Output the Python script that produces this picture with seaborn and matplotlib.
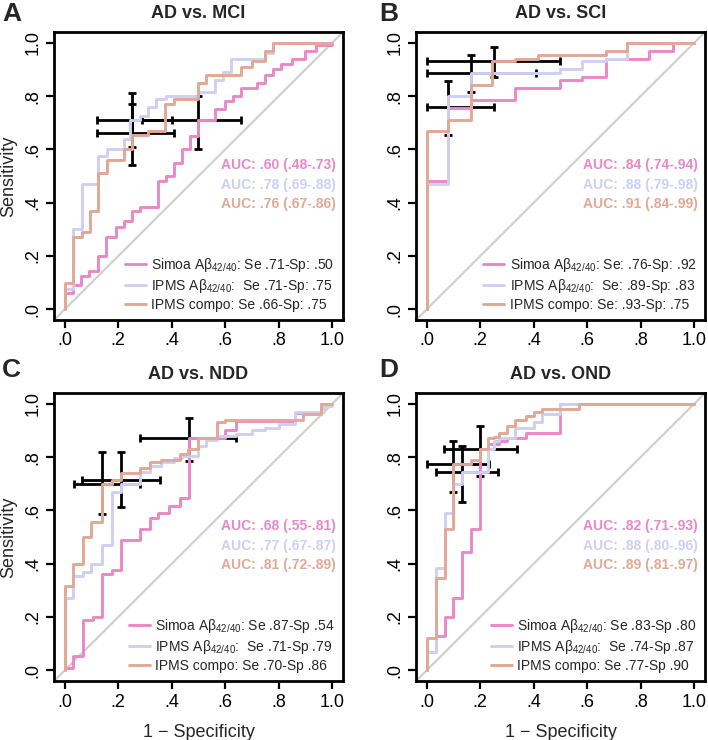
import matplotlib
matplotlib.use('Agg')
import matplotlib.pyplot as plt
from matplotlib.lines import Line2D
import seaborn as sns

# colours of the three markers
PINK = '#EA88C6'
LAV = '#CFCFF4'
SAL = '#E2A895'

TITLES = ['AD vs. MCI', 'AD vs. SCI', 'AD vs. NDD', 'AD vs. OND']
LETTERS = ['A', 'B', 'C', 'D']

# ROC step points (1 - specificity, sensitivity)
A_SIMOA_X = [0, 0, 0.03, 0.06, 0.09, 0.125, 0.155, 0.19, 0.22, 0.25, 0.28, 0.35, 0.38, 0.41, 0.44, 0.47, 0.50, 0.56, 0.60, 0.63, 0.66, 0.72, 0.75, 0.78, 0.81, 0.85, 0.90, 0.94, 1.0]
A_SIMOA_Y = [0, 0.06, 0.09, 0.125, 0.145, 0.20, 0.27, 0.31, 0.33, 0.37, 0.385, 0.48, 0.50, 0.55, 0.60, 0.65, 0.71, 0.75, 0.78, 0.80, 0.83, 0.85, 0.88, 0.90, 0.92, 0.94, 0.97, 0.99, 1.0]
A_IPMS_X = [0, 0, 0.03, 0.063, 0.125, 0.157, 0.22, 0.245, 0.28, 0.31, 0.34, 0.38, 0.50, 0.56, 0.59, 0.62, 0.75, 0.78, 1.0]
A_IPMS_Y = [0, 0.075, 0.30, 0.47, 0.575, 0.60, 0.64, 0.71, 0.725, 0.76, 0.79, 0.80, 0.815, 0.86, 0.89, 0.94, 0.96, 1.0, 1.0]
A_COMPO_X = [0, 0, 0.03, 0.063, 0.094, 0.125, 0.157, 0.22, 0.25, 0.31, 0.375, 0.41, 0.50, 0.53, 0.66, 0.70, 0.75, 0.78, 1.0]
A_COMPO_Y = [0, 0.10, 0.27, 0.29, 0.37, 0.51, 0.56, 0.60, 0.655, 0.67, 0.77, 0.79, 0.85, 0.88, 0.91, 0.93, 0.97, 1.0, 1.0]

B_SIMOA_X = [0, 0, 0.08, 0.165, 0.33, 0.50, 0.58, 0.67, 0.83, 0.92, 1.0]
B_SIMOA_Y = [0, 0.48, 0.755, 0.785, 0.83, 0.86, 0.87, 0.94, 0.97, 1.0, 1.0]
B_IPMS_X = [0, 0, 0.08, 0.165, 0.50, 0.58, 0.67, 0.75, 1.0]
B_IPMS_Y = [0, 0.47, 0.80, 0.885, 0.90, 0.93, 0.94, 1.0, 1.0]
B_COMPO_X = [0, 0, 0.08, 0.165, 0.245, 0.33, 0.415, 0.67, 0.75, 1.0]
B_COMPO_Y = [0, 0.67, 0.71, 0.84, 0.93, 0.94, 0.955, 0.97, 1.0, 1.0]

C_SIMOA_X = [0, 0, 0.03, 0.07, 0.105, 0.14, 0.175, 0.21, 0.28, 0.32, 0.35, 0.39, 0.43, 0.465, 0.60, 0.64, 0.86, 0.96, 1.0]
C_SIMOA_Y = [0, 0.01, 0.055, 0.19, 0.20, 0.36, 0.375, 0.49, 0.53, 0.57, 0.59, 0.615, 0.645, 0.87, 0.90, 0.935, 0.965, 1.0, 1.0]
C_IPMS_X = [0, 0, 0.03, 0.07, 0.10, 0.14, 0.175, 0.21, 0.28, 0.32, 0.36, 0.41, 0.44, 0.50, 0.53, 0.57, 0.64, 0.70, 0.75, 0.80, 0.86, 0.97, 1.0]
C_IPMS_Y = [0, 0.27, 0.355, 0.37, 0.40, 0.47, 0.67, 0.70, 0.745, 0.765, 0.78, 0.795, 0.805, 0.84, 0.865, 0.88, 0.885, 0.90, 0.91, 0.925, 0.97, 0.99, 1.0]
C_COMPO_X = [0, 0, 0.03, 0.07, 0.10, 0.14, 0.175, 0.21, 0.28, 0.32, 0.36, 0.43, 0.46, 0.50, 0.57, 0.60, 0.89, 0.96, 1.0]
C_COMPO_Y = [0, 0.315, 0.40, 0.50, 0.555, 0.70, 0.715, 0.74, 0.76, 0.78, 0.79, 0.81, 0.83, 0.87, 0.93, 0.94, 0.96, 1.0, 1.0]

D_SIMOA_X = [0, 0, 0.033, 0.067, 0.10, 0.133, 0.167, 0.20, 0.23, 0.27, 0.30, 0.37, 0.50, 1.0]
D_SIMOA_Y = [0, 0.07, 0.13, 0.20, 0.27, 0.445, 0.53, 0.83, 0.85, 0.86, 0.87, 0.89, 1.0, 1.0]
D_IPMS_X = [0, 0, 0.033, 0.067, 0.10, 0.133, 0.23, 0.25, 0.27, 0.33, 0.40, 0.43, 0.50, 1.0]
D_IPMS_Y = [0, 0.07, 0.385, 0.59, 0.70, 0.745, 0.83, 0.86, 0.87, 0.91, 0.93, 0.96, 1.0, 1.0]
D_COMPO_X = [0, 0, 0.033, 0.067, 0.10, 0.167, 0.20, 0.23, 0.25, 0.27, 0.30, 0.33, 0.37, 0.40, 0.43, 0.57, 1.0]
D_COMPO_Y = [0, 0.12, 0.345, 0.53, 0.775, 0.79, 0.83, 0.87, 0.875, 0.89, 0.915, 0.94, 0.955, 0.97, 0.98, 1.0, 1.0]

# cut-off points with CIs: order Simoa, IPMS, compo
A_PT_X = [0.50, 0.25, 0.25]
A_PT_Y = [0.71, 0.71, 0.66]
A_X_CI = [(0.29, 0.66), (0.12, 0.40), (0.12, 0.41)]
A_Y_CI = [(0.60, 0.80), (0.61, 0.81), (0.54, 0.77)]

B_PT_X = [0.08, 0.165, 0.25]
B_PT_Y = [0.76, 0.885, 0.93]
B_X_CI = [(0.0, 0.25), (0.0, 0.41), (0.0, 0.50)]
B_Y_CI = [(0.655, 0.857), (0.816, 0.956), (0.871, 0.985)]

C_PT_X = [0.465, 0.21, 0.14]
C_PT_Y = [0.872, 0.715, 0.70]
C_X_CI = [(0.28, 0.64), (0.066, 0.355), (0.034, 0.282)]
C_Y_CI = [(0.787, 0.945), (0.614, 0.818), (0.586, 0.818)]

D_PT_X = [0.20, 0.133, 0.10]
D_PT_Y = [0.832, 0.743, 0.774]
D_X_CI = [(0.066, 0.336), (0.033, 0.267), (0.0, 0.233)]
D_Y_CI = [(0.73, 0.916), (0.631, 0.843), (0.67, 0.86)]

SUB = r'$_{\mathregular{42/40}}$'
A_LEG = ['Simoa A\u03b2' + SUB + ': Se .71-Sp: .50', 'IPMS A\u03b2' + SUB + ':  Se .71-Sp: .75', 'IPMS compo: Se .66-Sp: .75']
B_LEG = ['Simoa A\u03b2' + SUB + ': Se: .76-Sp: .92', 'IPMS A\u03b2' + SUB + ':  Se: .89-Sp: .83', 'IPMS compo: Se: .93-Sp: .75']
C_LEG = ['Simoa A\u03b2' + SUB + ': Se .87-Sp .54', 'IPMS A\u03b2' + SUB + ':  Se .71-Sp .79', 'IPMS compo: Se .70-Sp .86']
D_LEG = ['Simoa A\u03b2' + SUB + ': Se .83-Sp .80', 'IPMS A\u03b2' + SUB + ':  Se .74-Sp .87', 'IPMS compo: Se .77-Sp .90']

A_AUC = ['AUC: .60 (.48-.73)', 'AUC: .78 (.69-.88)', 'AUC: .76 (.67-.86)']
B_AUC = ['AUC: .84 (.74-.94)', 'AUC: .88 (.79-.98)', 'AUC: .91 (.84-.99)']
C_AUC = ['AUC: .68 (.55-.81)', 'AUC: .77 (.67-.87)', 'AUC: .81 (.72-.89)']
D_AUC = ['AUC: .82 (.71-.93)', 'AUC: .88 (.80-.96)', 'AUC: .89 (.81-.97)']

TICKS = [0, 0.2, 0.4, 0.6, 0.8, 1.0]
TICK_LABELS = ['.0', '.2', '.4', '.6', '.8', '1.0']

sns.set_theme(style='ticks')
plt.rcParams['font.family'] = ['Liberation Sans', 'DejaVu Sans']
plt.rcParams['mathtext.fontset'] = 'custom'
plt.rcParams['mathtext.rm'] = 'Liberation Sans'

panels = [
    ([(A_SIMOA_X, A_SIMOA_Y), (A_IPMS_X, A_IPMS_Y), (A_COMPO_X, A_COMPO_Y)], A_PT_X, A_PT_Y, A_X_CI, A_Y_CI, A_LEG, A_AUC),
    ([(B_SIMOA_X, B_SIMOA_Y), (B_IPMS_X, B_IPMS_Y), (B_COMPO_X, B_COMPO_Y)], B_PT_X, B_PT_Y, B_X_CI, B_Y_CI, B_LEG, B_AUC),
    ([(C_SIMOA_X, C_SIMOA_Y), (C_IPMS_X, C_IPMS_Y), (C_COMPO_X, C_COMPO_Y)], C_PT_X, C_PT_Y, C_X_CI, C_Y_CI, C_LEG, C_AUC),
    ([(D_SIMOA_X, D_SIMOA_Y), (D_IPMS_X, D_IPMS_Y), (D_COMPO_X, D_COMPO_Y)], D_PT_X, D_PT_Y, D_X_CI, D_Y_CI, D_LEG, D_AUC),
]
colors = [PINK, LAV, SAL]

fig = plt.figure(figsize=(7.08, 7.40), dpi=100)
lefts = [0.0763, 0.5876, 0.0763, 0.5876]
bottoms = [0.5676, 0.5676, 0.0797, 0.0797]
letter_pos = [(0.003, 0.997), (0.536, 0.997), (0.003, 0.516), (0.536, 0.516)]

for i, (curves, px, py, xci, yci, leg, auc) in enumerate(panels):
    ax = fig.add_axes([lefts[i], bottoms[i], 0.408, 0.389])
    ax.set_xlim(-0.04, 1.04)
    ax.set_ylim(-0.04, 1.04)
    ax.axline((0, 0), (1, 1), color='#d0d0d0', lw=1.6, zorder=1)

    # confidence crosses (under the curves)
    for j in range(3):
        ax.errorbar(px[j], py[j],
                    xerr=[[px[j] - xci[j][0]], [xci[j][1] - px[j]]],
                    yerr=[[py[j] - yci[j][0]], [yci[j][1] - py[j]]],
                    fmt='none', ecolor='black', elinewidth=2, capsize=2.8,
                    capthick=2, zorder=2)

    for (x, y), c in zip(curves, colors):
        sns.lineplot(x=x, y=y, ax=ax, estimator=None, sort=False,
                     drawstyle='steps-post', color=c, lw=2.1, zorder=3, legend=False)

    for j in range(3):
        ax.text(1.015, 0.54 - j * 0.072, auc[j], color=colors[j], fontsize=10,
                fontweight='bold', ha='right', va='center', zorder=4)

    handles = [Line2D([0], [0], color=c, lw=2.1) for c in colors]
    ax.legend(handles, leg, loc='lower right', frameon=False, fontsize=10,
              handlelength=1.5, handletextpad=0.4, labelspacing=0.2,
              borderaxespad=0.2, borderpad=0.4)

    ax.set_xticks(TICKS)
    ax.set_xticklabels(TICK_LABELS)
    ax.set_yticks(TICKS)
    ax.set_yticklabels(TICK_LABELS, rotation=90, va='center')
    ax.tick_params(direction='out', length=6, width=1.6, labelsize=13,
                   color='black', labelcolor='black', pad=3)
    for s in ax.spines.values():
        s.set_visible(True)
        s.set_linewidth(2)
        s.set_color('black')
    ax.set_title(TITLES[i], fontsize=13, fontweight='bold', pad=10)
    if i in (0, 2):
        ax.set_ylabel('Sensitivity', fontsize=13, labelpad=5)
    else:
        ax.set_ylabel('')
    if i in (2, 3):
        ax.set_xlabel('1 \u2212 Specificity', fontsize=13, labelpad=10)
    else:
        ax.set_xlabel('')
    fig.text(letter_pos[i][0], letter_pos[i][1], LETTERS[i], fontsize=19,
             fontweight='bold', ha='left', va='top')

fig.savefig('out.png', dpi=100)
